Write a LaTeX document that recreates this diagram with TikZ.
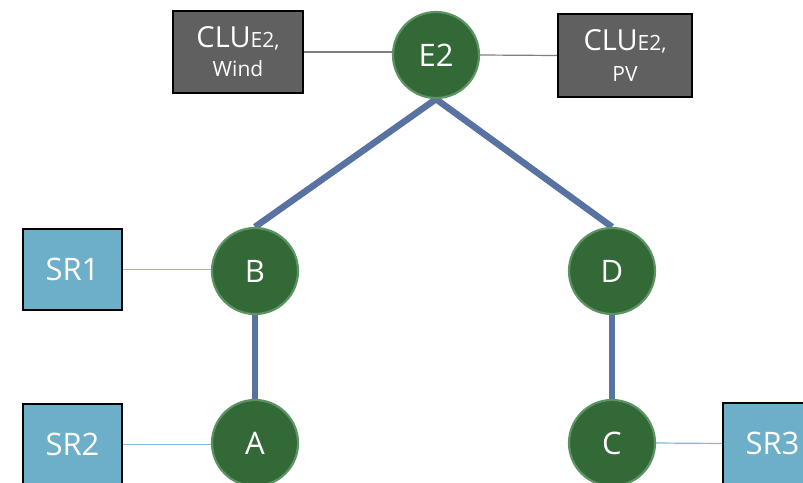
\documentclass[tikz,border=0pt]{standalone}
\usepackage{fontspec}
\setmainfont{Open Sans}
\usetikzlibrary{backgrounds}
\definecolor{busgreen}{HTML}{336837}
\definecolor{busedge}{HTML}{5B9462}
\definecolor{linkblue}{HTML}{5873A2}
\definecolor{srfill}{HTML}{6DAEC9}
\definecolor{clufill}{HTML}{606060}
\definecolor{thinblue}{HTML}{80BCD4}
\definecolor{thingray}{HTML}{7F7F7F}
\tikzset{
  bus/.style={circle, fill=busgreen, draw=busedge, line width=2.2pt,
    minimum size=86pt, inner sep=0pt, text=white,
    font=\fontsize{31}{31}\selectfont},
  srbox/.style={rectangle, fill=srfill, draw=black, line width=2pt,
    minimum width=99pt, minimum height=81pt, inner sep=0pt, text=white,
    font=\fontsize{31}{31}\selectfont},
  clubox/.style={rectangle, fill=clufill, draw=black, line width=2pt,
    minimum width=130pt, minimum height=82pt, inner sep=0pt, text=white,
    align=center, font=\fontsize{29}{26}\selectfont},
  feeder/.style={draw=linkblue, line width=6.5pt},
  srlink/.style={draw=thinblue, line width=1.2pt},
  clulink/.style={draw=thingray, line width=1.2pt},
}
\newcommand{\clulabel}[2]{CLU{\fontsize{21}{21}\selectfont E2,}\\[#2]{\fontsize{21}{21}\selectfont #1}}
\begin{document}
\begin{tikzpicture}[x=1pt,y=-1pt]
\useasboundingbox (0,0) rectangle (803,482);
\clip (0,0) rectangle (803,482);
% buses
\node[bus] (E2) at (436,55) {E2};
\node[bus] (B) at (255,271) {B};
\node[bus] (D) at (612,271) {D};
\node[bus] (A) at (255,443) {A};
\node[bus] (C) at (612,443) {C};
% resources
\node[clubox] (CLUW) at (238,52) {\clulabel{Wind}{3pt}};
\node[clubox, minimum width=134pt, minimum height=83pt] (CLUP) at (625,55.5) {\clulabel{PV}{5pt}};
\node[srbox] (SR1) at (72.5,269.5) {SR1};
\node[srbox] (SR2) at (72.5,444.5) {SR2};
\node[srbox] (SR3) at (772.5,443.5) {SR3};
% connectors
\begin{scope}[on background layer]
  \draw[feeder] (E2.south) -- (B.north);
  \draw[feeder] (E2.south) -- (D.north);
  \draw[feeder] (B.south) -- (A.north);
  \draw[feeder] (D.south) -- (C.north);
  \draw[clulink] (CLUW.east) -- (CLUW.east -| E2.west);
  \draw[clulink] (E2.east) -- (CLUP.west);
  \draw[srlink] (SR1.east) -- (SR1.east -| B.west);
  \draw[srlink] (SR2.east) -- (SR2.east -| A.west);
  \draw[srlink] (C.east) -- (SR3.west);
\end{scope}
\end{tikzpicture}
\end{document}
